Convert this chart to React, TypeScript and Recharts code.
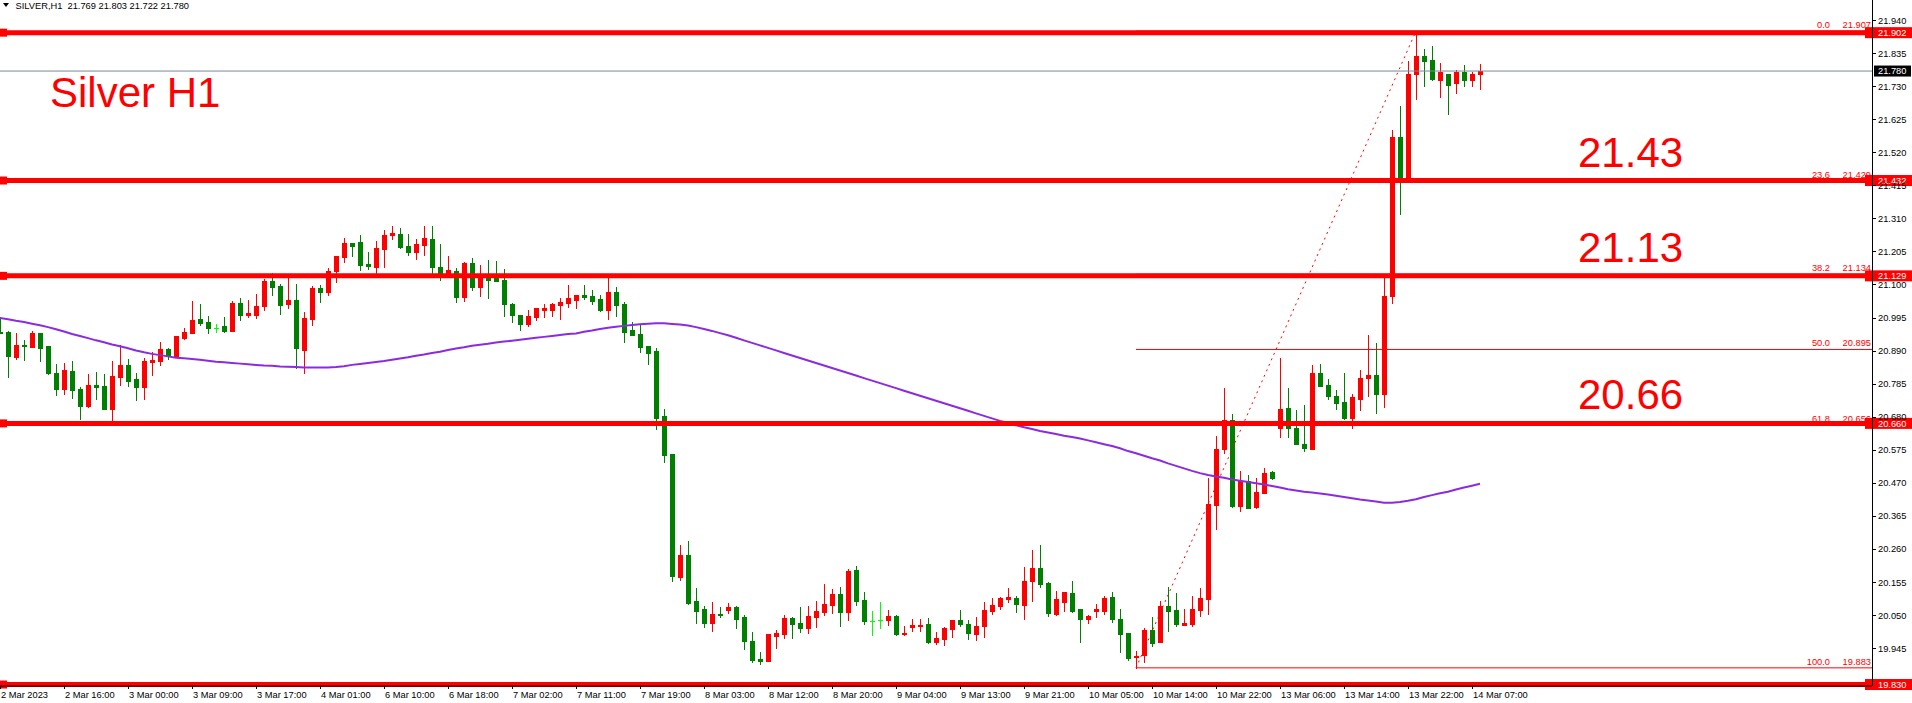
import React from 'react';
import { ComposedChart, Bar, Line, XAxis, YAxis, ReferenceLine } from 'recharts';

// SILVER H1 candles, 2 Mar 08:00 .. 14 Mar 08:00
const opens = [
  20.951, 20.950, 20.872, 20.909, 20.904, 20.947, 20.906, 20.820, 20.770, 20.826,
  20.769, 20.716, 20.782, 20.779, 20.707, 20.808, 20.846, 20.801, 20.777, 20.856,
  20.859, 20.896, 20.875, 20.932, 20.948, 20.992, 20.982, 20.964, 20.970, 20.955,
  21.043, 21.006, 21.006, 21.034, 21.113, 21.097, 21.040, 21.052, 20.894, 20.993,
  21.090, 21.079, 21.145, 21.190, 21.233, 21.237, 21.167, 21.158, 21.215, 21.260,
  21.262, 21.224, 21.206, 21.228, 21.246, 21.157, 21.138, 21.144, 21.062, 21.170,
  21.095, 21.124, 21.122, 21.116, 21.039, 21.004, 20.977, 20.999, 21.021, 21.020,
  21.037, 21.044, 21.053, 21.068, 21.065, 21.055, 21.021, 21.078, 21.039, 20.957,
  20.944, 20.906, 20.890, 20.683, 20.563, 20.173, 20.242, 20.095, 20.070, 20.027,
  20.054, 20.068, 20.076, 20.045, 19.968, 19.911, 19.906, 19.985, 19.992, 20.041,
  20.025, 20.011, 20.046, 20.062, 20.084, 20.118, 20.062, 20.194, 20.099, 20.031,
  20.035, 20.036, 20.048, 19.992, 20.014, 20.017, 20.022, 19.966, 19.976, 20.008,
  20.035, 20.022, 19.992, 20.017, 20.065, 20.081, 20.103, 20.105, 20.084, 20.160,
  20.200, 20.153, 20.055, 20.093, 20.121, 20.070, 20.039, 20.065, 20.065, 20.108,
  20.038, 19.995, 19.917, 19.923, 20.003, 19.966, 20.080, 20.067, 20.019, 20.023,
  20.067, 20.102, 20.400, 20.579, 20.672, 20.396, 20.476, 20.393, 20.439, 20.506,
  20.644, 20.708, 20.644, 20.595, 20.579, 20.819, 20.781, 20.748, 20.727, 20.678,
  20.738, 20.805, 20.813, 20.752, 21.064, 21.571, 21.434, 21.769, 21.827, 21.815,
  21.753, 21.771, 21.742, 21.777, 21.750, 21.769,
];
const highs = [
  20.997, 20.954, 20.946, 20.925, 20.954, 20.947, 20.906, 20.850, 20.852, 20.858,
  20.776, 20.818, 20.823, 20.818, 20.858, 20.910, 20.865, 20.821, 20.868, 20.886,
  20.919, 20.900, 20.938, 20.964, 21.049, 21.039, 21.001, 20.977, 20.998, 21.049,
  21.059, 21.052, 21.071, 21.120, 21.138, 21.103, 21.125, 21.103, 21.014, 21.097,
  21.100, 21.154, 21.192, 21.249, 21.233, 21.259, 21.205, 21.240, 21.275, 21.287,
  21.281, 21.262, 21.245, 21.287, 21.287, 21.231, 21.192, 21.154, 21.173, 21.186,
  21.163, 21.179, 21.176, 21.151, 21.042, 21.004, 21.020, 21.027, 21.039, 21.043,
  21.059, 21.100, 21.068, 21.100, 21.084, 21.068, 21.122, 21.093, 21.046, 20.982,
  20.976, 20.906, 20.900, 20.706, 20.563, 20.273, 20.286, 20.137, 20.080, 20.092,
  20.076, 20.089, 20.080, 20.051, 19.997, 19.932, 19.991, 20.003, 20.051, 20.045,
  20.076, 20.080, 20.095, 20.151, 20.134, 20.140, 20.197, 20.207, 20.124, 20.064,
  20.092, 20.067, 20.051, 20.016, 20.038, 20.038, 20.041, 19.997, 20.013, 20.035,
  20.067, 20.035, 20.045, 20.092, 20.105, 20.108, 20.137, 20.111, 20.204, 20.258,
  20.274, 20.156, 20.127, 20.124, 20.159, 20.070, 20.052, 20.086, 20.111, 20.124,
  20.070, 19.995, 19.938, 20.011, 20.044, 20.096, 20.141, 20.122, 20.069, 20.111,
  20.136, 20.487, 20.620, 20.774, 20.689, 20.508, 20.495, 20.487, 20.518, 20.508,
  20.869, 20.771, 20.701, 20.717, 20.845, 20.850, 20.800, 20.765, 20.819, 20.755,
  20.831, 20.942, 20.914, 21.123, 21.594, 21.669, 21.813, 21.907, 21.849, 21.859,
  21.806, 21.771, 21.784, 21.798, 21.777, 21.803,
];
const lows = [
  20.946, 20.808, 20.866, 20.862, 20.904, 20.859, 20.818, 20.750, 20.754, 20.742,
  20.675, 20.713, 20.737, 20.707, 20.669, 20.783, 20.780, 20.734, 20.737, 20.815,
  20.847, 20.866, 20.872, 20.927, 20.948, 20.974, 20.948, 20.951, 20.951, 20.955,
  20.990, 20.999, 20.996, 21.020, 21.069, 21.009, 21.028, 20.837, 20.821, 20.974,
  21.047, 21.069, 21.110, 21.174, 21.193, 21.149, 21.152, 21.138, 21.158, 21.247,
  21.218, 21.196, 21.184, 21.196, 21.135, 21.117, 21.126, 21.046, 21.050, 21.085,
  21.065, 21.059, 21.113, 21.001, 20.983, 20.958, 20.971, 20.989, 20.998, 21.002,
  20.993, 21.031, 21.028, 21.056, 21.040, 21.018, 20.993, 21.002, 20.920, 20.941,
  20.888, 20.850, 20.643, 20.538, 20.160, 20.162, 20.087, 20.027, 20.014, 20.001,
  20.046, 20.058, 20.011, 19.944, 19.903, 19.894, 19.906, 19.947, 19.979, 19.979,
  19.998, 19.995, 20.014, 20.052, 20.058, 20.017, 20.036, 20.084, 20.023, 19.988,
  20.011, 20.020, 19.988, 19.988, 20.001, 20.001, 19.963, 19.960, 19.957, 19.982,
  20.017, 19.976, 19.973, 19.982, 20.055, 20.071, 20.093, 20.062, 20.039, 20.097,
  20.141, 20.049, 20.052, 20.065, 20.062, 19.966, 20.027, 20.046, 20.055, 20.030,
  19.934, 19.909, 19.883, 19.902, 19.954, 19.966, 20.000, 20.016, 20.019, 20.015,
  20.049, 20.054, 20.325, 20.567, 20.393, 20.382, 20.392, 20.392, 20.439, 20.484,
  20.617, 20.617, 20.595, 20.572, 20.579, 20.778, 20.738, 20.705, 20.674, 20.644,
  20.701, 20.746, 20.692, 20.712, 21.044, 21.325, 21.434, 21.691, 21.731, 21.752,
  21.696, 21.642, 21.711, 21.734, 21.731, 21.722,
];
const closes = [
  20.948, 20.875, 20.909, 20.907, 20.947, 20.901, 20.821, 20.770, 20.830, 20.767,
  20.716, 20.782, 20.777, 20.707, 20.811, 20.846, 20.796, 20.777, 20.858, 20.861,
  20.896, 20.875, 20.938, 20.950, 20.989, 20.980, 20.964, 20.964, 20.955, 21.043,
  21.006, 21.011, 21.033, 21.113, 21.095, 21.037, 21.052, 20.901, 20.995, 21.090,
  21.078, 21.144, 21.192, 21.233, 21.223, 21.164, 21.161, 21.217, 21.259, 21.266,
  21.222, 21.206, 21.230, 21.249, 21.158, 21.138, 21.148, 21.062, 21.170, 21.095,
  21.122, 21.117, 21.114, 21.040, 21.006, 20.977, 21.001, 21.027, 21.028, 21.039,
  21.046, 21.059, 21.068, 21.063, 21.050, 21.021, 21.078, 21.037, 20.950, 20.941,
  20.904, 20.885, 20.678, 20.561, 20.176, 20.242, 20.089, 20.065, 20.027, 20.054,
  20.052, 20.076, 20.039, 19.969, 19.909, 19.904, 19.991, 19.995, 20.041, 20.023,
  20.011, 20.048, 20.064, 20.086, 20.118, 20.062, 20.191, 20.097, 20.033, 20.031,
  20.035, 20.048, 19.992, 19.994, 20.019, 20.019, 19.966, 19.978, 20.010, 20.035,
  20.023, 19.995, 20.016, 20.067, 20.083, 20.105, 20.108, 20.087, 20.159, 20.200,
  20.151, 20.058, 20.102, 20.124, 20.065, 20.039, 20.049, 20.070, 20.105, 20.039,
  19.992, 19.915, 19.922, 20.003, 19.963, 20.080, 20.064, 20.023, 20.027, 20.069,
  20.105, 20.403, 20.580, 20.672, 20.396, 20.477, 20.392, 20.441, 20.502, 20.487,
  20.705, 20.644, 20.595, 20.582, 20.819, 20.778, 20.748, 20.724, 20.678, 20.743,
  20.803, 20.813, 20.754, 21.066, 21.571, 21.434, 21.771, 21.827, 21.813, 21.756,
  21.777, 21.737, 21.777, 21.750, 21.771, 21.780,
];
// moving average (purple line), one value per bar
const maValues = [
  20.995, 20.991, 20.986, 20.982, 20.977, 20.972, 20.966, 20.959, 20.952, 20.944,
  20.938, 20.931, 20.924, 20.918, 20.911, 20.905, 20.899, 20.892, 20.886, 20.881,
  20.877, 20.873, 20.869, 20.867, 20.865, 20.862, 20.859, 20.856, 20.854, 20.852,
  20.850, 20.848, 20.846, 20.844, 20.843, 20.841, 20.840, 20.839, 20.838, 20.838,
  20.838, 20.838, 20.839, 20.842, 20.846, 20.849, 20.852, 20.855, 20.858, 20.862,
  20.866, 20.870, 20.875, 20.879, 20.884, 20.888, 20.893, 20.898, 20.902, 20.907,
  20.910, 20.913, 20.917, 20.920, 20.923, 20.926, 20.929, 20.932, 20.935, 20.938,
  20.941, 20.944, 20.946, 20.951, 20.955, 20.960, 20.964, 20.967, 20.970, 20.973,
  20.975, 20.977, 20.978, 20.978, 20.976, 20.974, 20.971, 20.966, 20.960, 20.954,
  20.947, 20.940, 20.932, 20.924, 20.916, 20.908, 20.900, 20.892, 20.884, 20.876,
  20.868, 20.860, 20.852, 20.844, 20.836, 20.828, 20.820, 20.812, 20.804, 20.796,
  20.788, 20.780, 20.772, 20.764, 20.756, 20.748, 20.740, 20.732, 20.724, 20.716,
  20.708, 20.700, 20.692, 20.684, 20.676, 20.668, 20.661, 20.654, 20.648, 20.642,
  20.636, 20.631, 20.626, 20.621, 20.617, 20.612, 20.606, 20.600, 20.594, 20.588,
  20.581, 20.572, 20.565, 20.557, 20.549, 20.542, 20.533, 20.525, 20.517, 20.509,
  20.502, 20.496, 20.491, 20.487, 20.482, 20.478, 20.474, 20.470, 20.466, 20.461,
  20.456, 20.451, 20.447, 20.443, 20.440, 20.437, 20.434, 20.430, 20.426, 20.422,
  20.418, 20.415, 20.412, 20.408, 20.408, 20.410, 20.414, 20.419, 20.426, 20.432,
  20.438, 20.443, 20.450, 20.456, 20.462, 20.468,
];

const timeTickIdx = [0, 8, 16, 24, 32, 40, 48, 56, 64, 72, 80, 88, 96, 104, 112, 120, 128, 136, 144, 152, 160, 168, 176, 184];
const timeTickLabels = [
  '2 Mar 2023', '2 Mar 16:00', '3 Mar 00:00', '3 Mar 09:00', '3 Mar 17:00', '4 Mar 01:00',
  '6 Mar 10:00', '6 Mar 18:00', '7 Mar 02:00', '7 Mar 11:00', '7 Mar 19:00', '8 Mar 03:00',
  '8 Mar 12:00', '8 Mar 20:00', '9 Mar 04:00', '9 Mar 13:00', '9 Mar 21:00', '10 Mar 05:00',
  '10 Mar 14:00', '10 Mar 22:00', '13 Mar 06:00', '13 Mar 14:00', '13 Mar 22:00', '14 Mar 07:00',
];
const priceTicks = [
  19.945, 20.05, 20.155, 20.26, 20.365, 20.47, 20.575, 20.68, 20.785, 20.89,
  20.995, 21.1, 21.205, 21.31, 21.415, 21.52, 21.625, 21.73, 21.835, 21.94,
];

// horizontal support / resistance lines
const levelPrices = [21.902, 21.432, 21.129, 20.66, 19.83];
const levelTexts = ['21.902', '21.432', '21.129', '20.660', '19.830'];
const bigLabelPrices = [21.432, 21.129, 20.66];
const bigLabelTexts = ['21.43', '21.13', '20.66'];

// fibonacci retracement, drawn from the low bar to the high bar
const fibLevels = ['0.0', '23.6', '38.2', '50.0', '61.8', '100.0'];
const fibPrices = [21.907, 21.429, 21.134, 20.895, 20.656, 19.883];
const fibLowBar = 142;
const fibHighBar = 177;

const bidPrice = 21.78;
const headerText = 'SILVER,H1  21.769 21.803 21.722 21.780';

const N_SLOTS = 235;
const Y_MIN = 19.8253;
const Y_MAX = 22.0058;
const RED = '#FF0000';
const BULL = '#FF0000';
const BEAR = '#008000';
const DOJI = '#00FF00';
const FONT = "'Liberation Sans', Arial, sans-serif";

const rows = Array.from({ length: N_SLOTS }, (_, i) => ({
  idx: i,
  open: opens[i],
  high: highs[i],
  low: lows[i],
  close: closes[i],
  ma: maValues[i],
}));

const Candle = (props: any) => {
  const { x, y, width, height, payload } = props;
  if (!payload || payload.high == null) return null;
  const { open, close, high, low } = payload;
  const top = Math.min(y, y + height);
  const bot = Math.max(y, y + height);
  const span = high - low;
  const py = (p: number) => (span > 0 ? top + ((high - p) / span) * (bot - top) : top);
  const cx = Math.round(x + width / 2);
  const color = close > open ? BULL : close < open ? BEAR : DOJI;
  const hi = Math.round(py(high));
  const lo = Math.round(py(low));
  const bTop = Math.round(py(Math.max(open, close)));
  const bBot = Math.round(py(Math.min(open, close)));
  return (
    <g>
      <rect x={cx} y={hi} width={1} height={Math.max(1, lo - hi + 1)} fill={color} />
      <rect x={cx - 2} y={bTop} width={5} height={Math.max(1, bBot - bTop + 1)} fill={color} />
    </g>
  );
};

const TimeTick = ({ x, y, payload }: any) => {
  const k = timeTickIdx.indexOf(payload.value);
  if (k < 0) return null;
  return (
    <g>
      <line x1={x} y1={y} x2={x} y2={y + 3} stroke="#000" shapeRendering="crispEdges" />
      <text x={x + 1} y={y + 12} fontSize={9.3} fontFamily={FONT} fill="#000" textAnchor="start">
        {timeTickLabels[k]}
      </text>
    </g>
  );
};

const PriceTick = ({ x, y, payload }: any) => (
  <g>
    <line x1={x} y1={y} x2={x + 4} y2={y} stroke="#000" shapeRendering="crispEdges" />
    <text x={x + 6} y={y} dy="0.35em" fontSize={9.3} fontFamily={FONT} fill="#000">
      {Number(payload.value).toFixed(3)}
    </text>
  </g>
);

const LevelTag = ({ viewBox, text }: any) => {
  const { x, y, width } = viewBox;
  const right = x + width;
  return (
    <g>
      <rect x={x} y={y - 4} width={7} height={8} fill={RED} />
      <rect x={right - 7} y={y - 5.5} width={47} height={11} fill={RED} />
      <text x={right + 6} y={y} dy="0.35em" fontSize={9.3} fontFamily={FONT} fill="#fff">
        {text}
      </text>
    </g>
  );
};

const BidTag = ({ viewBox }: any) => {
  const { x, y, width } = viewBox;
  const right = x + width;
  return (
    <g>
      <rect x={right + 2} y={y - 5.5} width={37} height={11} fill="#000" />
      <text x={right + 6} y={y} dy="0.35em" fontSize={9.3} fontFamily={FONT} fill="#fff">
        {bidPrice.toFixed(3)}
      </text>
    </g>
  );
};

const FibTag = ({ viewBox, level, price }: any) => {
  const { x, y, width } = viewBox;
  const right = x + width;
  return (
    <g fontSize={9.3} fontFamily={FONT} fill={RED}>
      <text x={right - 42} y={y - 3} textAnchor="end">{level}</text>
      <text x={right - 1} y={y - 3} textAnchor="end">{price.toFixed(3)}</text>
    </g>
  );
};

const BigTag = ({ viewBox, text }: any) => (
  <text x={viewBox.x + 1578} y={viewBox.y - 14} fontSize={42} fontFamily={FONT} fill={RED}>
    {text}
  </text>
);

const App: React.FC = () => {
  return (
    <div style={{ position: 'absolute', left: 0, top: 0, width: 1912, height: 703, background: '#fff', overflow: 'hidden' }}>
      <ComposedChart width={1912} height={703} data={rows} margin={{ top: 0, right: 0, bottom: 0, left: 0 }} barCategoryGap={1}>
        <XAxis
          dataKey="idx"
          type="category"
          ticks={timeTickIdx}
          interval={0}
          tick={<TimeTick />}
          tickLine={false}
          tickSize={0}
          tickMargin={0}
          height={17}
          padding={{ left: -4, right: -4 }}
          axisLine={{ stroke: '#000' }}
        />
        <YAxis
          orientation="right"
          type="number"
          domain={[Y_MIN, Y_MAX]}
          allowDataOverflow
          ticks={priceTicks}
          interval={0}
          tick={<PriceTick />}
          tickLine={false}
          tickSize={0}
          tickMargin={0}
          width={40}
          axisLine={{ stroke: '#000', shapeRendering: 'crispEdges' }}
        />
        <Bar
          dataKey={(d: any) => (d.high == null ? null : [d.low, d.high])}
          shape={<Candle />}
          isAnimationActive={false}
        />
        <Line
          dataKey="ma"
          type="linear"
          stroke="#8A2BE2"
          strokeWidth={2}
          dot={false}
          activeDot={false}
          isAnimationActive={false}
        />
        {fibPrices.map((p, k) => (
          <ReferenceLine
            key={'fib' + k}
            segment={[{ x: fibLowBar, y: p }, { x: N_SLOTS - 1, y: p }]}
            stroke={RED}
            strokeWidth={1}
            label={(lp: any) => <FibTag viewBox={lp.viewBox} level={fibLevels[k]} price={p} />}
          />
        ))}
        <ReferenceLine
          segment={[{ x: fibLowBar, y: fibPrices[5] }, { x: fibHighBar, y: fibPrices[0] }]}
          stroke={RED}
          strokeWidth={1}
          strokeDasharray="2 4"
        />
        <ReferenceLine
          y={bidPrice}
          stroke="#778899"
          strokeWidth={1}
          label={(lp: any) => <BidTag viewBox={lp.viewBox} />}
        />
        {levelPrices.map((p, k) => (
          <ReferenceLine
            key={'lv' + k}
            y={p}
            stroke={RED}
            strokeWidth={5}
            label={(lp: any) => <LevelTag viewBox={lp.viewBox} text={levelTexts[k]} />}
          />
        ))}
        {bigLabelPrices.map((p, k) => (
          <ReferenceLine
            key={'big' + k}
            y={p}
            stroke="none"
            label={(lp: any) => <BigTag viewBox={lp.viewBox} text={bigLabelTexts[k]} />}
          />
        ))}
      </ComposedChart>
      <svg width={1912} height={703} style={{ position: 'absolute', left: 0, top: 0, pointerEvents: 'none' }}>
        <polygon points="3,3 9,3 6,7" fill="#000" />
        <text x={15.5} y={8.5} fontSize={9.3} fontFamily={FONT} fill="#000" style={{ whiteSpace: 'pre' }}>
          {headerText}
        </text>
        <text x={50} y={107} fontSize={42} fontFamily={FONT} fill={RED}>
          Silver H1
        </text>
      </svg>
    </div>
  );
};

export default App;
